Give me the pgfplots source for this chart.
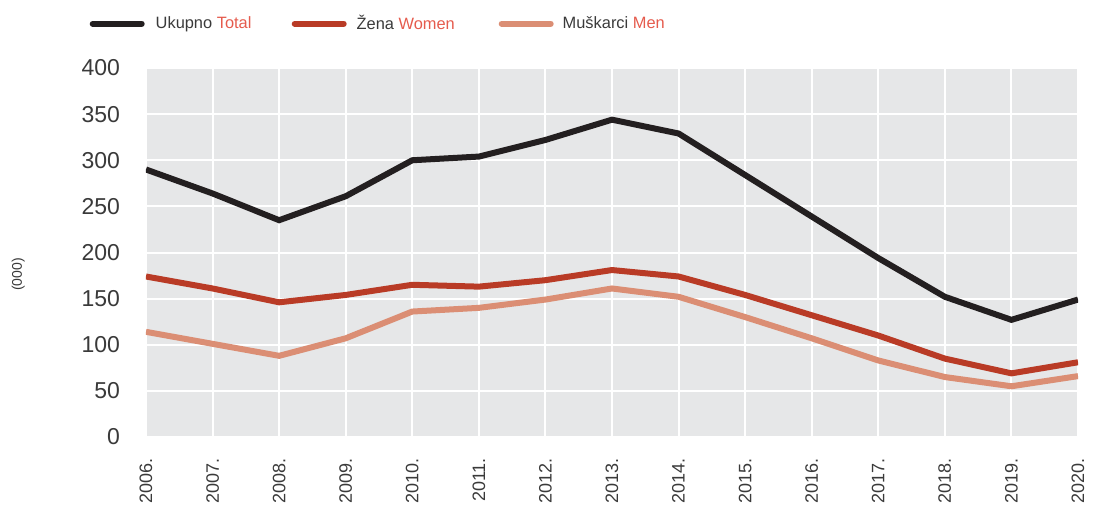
\documentclass[border=0pt]{standalone}
\usepackage{pgfplots}
\pgfplotsset{compat=1.18}
\usepackage{fontspec}
\setmainfont{Liberation Sans}
\definecolor{bgc}{HTML}{E6E7E8}
\definecolor{cTot}{HTML}{231F20}
\definecolor{cWom}{HTML}{B93B26}
\definecolor{cMen}{HTML}{DB8E74}
\definecolor{eng}{HTML}{E55B4D}
\definecolor{txt}{HTML}{3A3A3A}
\begin{document}
\begin{tikzpicture}
\begin{axis}[
  at={(0,0)}, anchor=south west,
  scale only axis, width=466pt, height=184.5pt,
  xmin=2006, xmax=2020, ymin=0, ymax=400,
  axis background/.style={fill=bgc},
  axis line style={draw=none},
  xtick={2006,2007,...,2020},
  xticklabels={2006.,2007.,2008.,2009.,2010.,2011.,2012.,2013.,2014.,2015.,2016.,2017.,2018.,2019.,2020.},
  x tick label style={rotate=90, anchor=east, font=\fontsize{9}{10}\selectfont, text=txt, xshift=-7pt},
  ytick={0,50,...,400},
  y tick label style={font=\fontsize{11.5}{13}\selectfont, text=txt, xshift=-9.5pt},
  /pgf/number format/assume math mode=true,
  grid=major, grid style={white, line width=1pt},
  major tick length=0pt,
  ylabel={(000)},
  ylabel style={at={(axis description cs:-0.137,0.44)}, anchor=center, rotate=0, font=\fontsize{7}{8}\selectfont, text=txt},
  legend columns=3,
  legend cell align=left,
  legend style={draw=none, fill=none, inner sep=0pt, outer sep=0pt,
    at={(axis description cs:-0.0604,1.12)}, anchor=west,
    font=\fontsize{8.2}{9}\selectfont, text=txt,
    /tikz/every even column/.style={column sep=0pt}},
  legend image code/.code={\draw[#1, line width=3pt, line cap=round] (0pt,0pt) -- (24.5pt,0pt);},
]
\addplot[cTot, line width=3pt, no marks] coordinates {
 (2006,290) (2007,264) (2008,235) (2009,261) (2010,300) (2011,304) (2012,322) (2013,344)
 (2014,329) (2015,284) (2016,239) (2017,194) (2018,152) (2019,127) (2020,149)};
\addlegendentry{\makebox[69.5pt][l]{\hspace{3.5pt}Ukupno \textcolor{eng}{Total}}}
\addplot[cWom, line width=3pt, no marks] coordinates {
 (2006,174) (2007,161) (2008,146) (2009,154) (2010,165) (2011,163) (2012,170) (2013,181)
 (2014,174) (2015,154) (2016,132) (2017,110) (2018,85) (2019,69) (2020,81)};
\addlegendentry{\makebox[72pt][l]{\hspace{3pt}Žena \textcolor{eng}{Women}}}
\addplot[cMen, line width=3pt, no marks] coordinates {
 (2006,114) (2007,101) (2008,88) (2009,107) (2010,136) (2011,140) (2012,149) (2013,161)
 (2014,152) (2015,130) (2016,107) (2017,83) (2018,65) (2019,55) (2020,66)};
\addlegendentry{\hspace{2.5pt}Muškarci \textcolor{eng}{Men}}
\end{axis}
\pgfresetboundingbox
\path (-73pt,-39.5pt) rectangle (476.5pt,218.5pt);
\end{tikzpicture}
\end{document}
